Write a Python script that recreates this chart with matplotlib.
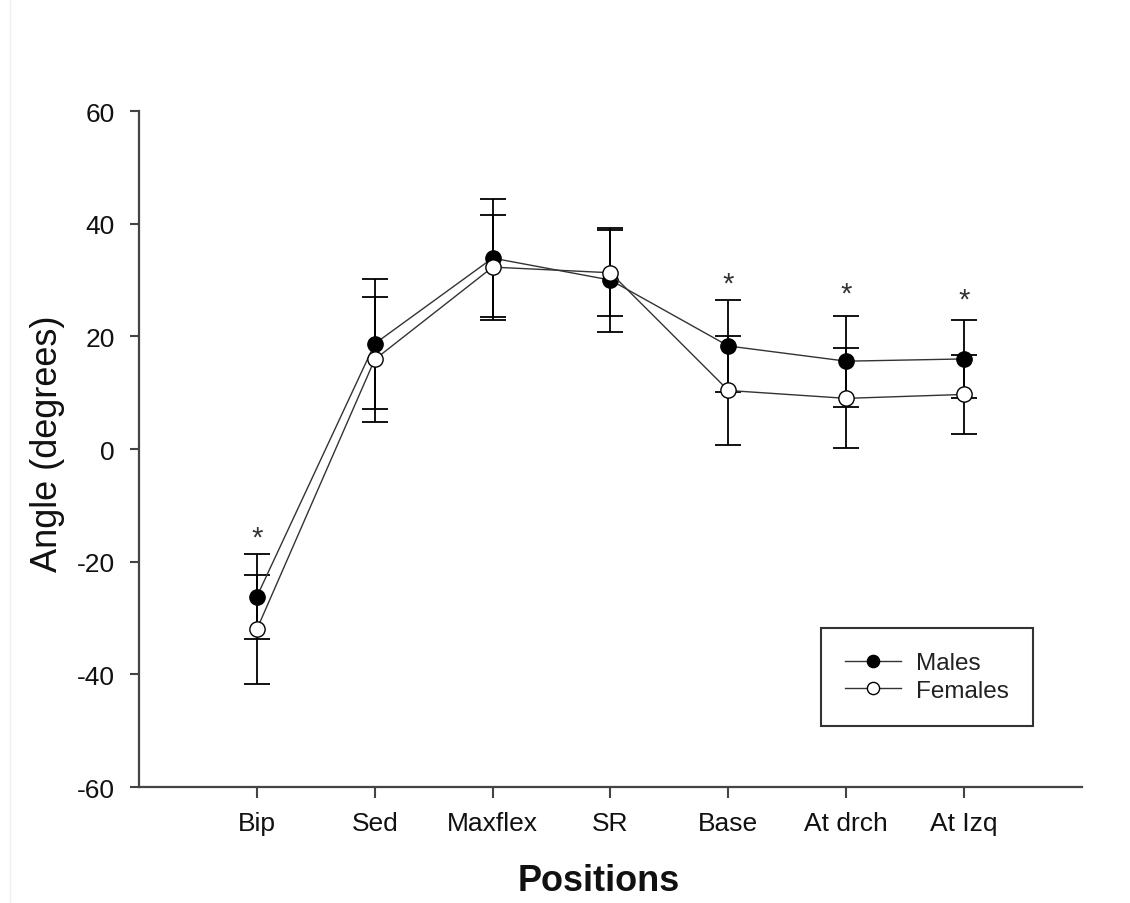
import numpy as np
import matplotlib.pyplot as plt
from matplotlib.lines import Line2D

plt.rcParams['font.family'] = ['Liberation Sans', 'DejaVu Sans']
plt.rcParams['axes.unicode_minus'] = False

positions = ['Bip', 'Sed', 'Maxflex', 'SR', 'Base', 'At drch', 'At Izq']
males = [-26.2, 18.7, 33.9, 30.0, 18.3, 15.6, 16.0]
males_sd = [7.6, 11.5, 10.5, 9.3, 8.2, 8.1, 6.9]
females = [-32.0, 15.9, 32.3, 31.3, 10.4, 9.0, 9.7]
females_sd = [9.7, 11.1, 9.3, 7.6, 9.6, 8.9, 7.0]
# significance marks
star_pos = ['Bip', 'Base', 'At drch', 'At Izq']
star_y = [-14.8, 30.4, 28.6, 27.5]

x = np.arange(1, len(positions) + 1)

fig = plt.figure(figsize=(11.3, 9.04), dpi=100)
ax = fig.add_axes([0.123, 0.1283, 0.8345, 0.7477])

line_col = '#333333'
ax.errorbar(x, males, yerr=males_sd, fmt='none', ecolor='black', elinewidth=1.3,
            capsize=9.5, capthick=1.3, zorder=2)
ax.errorbar(x, females, yerr=females_sd, fmt='none', ecolor='black', elinewidth=1.3,
            capsize=9.5, capthick=1.3, zorder=2)
ax.plot(x, males, color=line_col, lw=1.0, marker='o', ms=11, mfc='black',
        mec='black', mew=1.0, zorder=3, label='Males')
ax.plot(x, females, color=line_col, lw=1.0, marker='o', ms=11, mfc='white',
        mec='black', mew=1.0, zorder=4, label='Females')

for p, yv in zip(star_pos, star_y):
    ax.annotate('*', (positions.index(p) + 1, yv), xytext=(0, -4),
                textcoords='offset points', ha='center', va='center',
                fontsize=21, color='#333333')

ax.set_xlim(0, 8)
ax.set_ylim(-60, 60)
ax.set_xticks(x)
ax.set_xticklabels(positions)
ax.set_yticks(np.arange(-60, 61, 20))

for s in ['top', 'right']:
    ax.spines[s].set_visible(False)
for s in ['left', 'bottom']:
    ax.spines[s].set_color('#444444')
    ax.spines[s].set_linewidth(1.6)

ax.tick_params(axis='x', direction='out', length=8, width=1.5, color='#444444',
               labelsize=19, pad=9, labelcolor='#111111')
ax.tick_params(axis='y', direction='out', length=6.5, width=1.5, color='#444444',
               labelsize=19, pad=11, labelcolor='#111111')

ax.set_ylabel('Angle (degrees)', fontsize=26, va='center', color='#111111')
ax.yaxis.set_label_coords(-0.097, 0.51)
ax.set_xlabel('Positions', fontsize=26, fontweight='bold', va='center', color='#111111')
ax.xaxis.set_label_coords(0.488, -0.139)

leg = ax.legend(loc='upper left', bbox_to_anchor=(0.7263, 0.3042),
                bbox_transform=fig.transFigure, borderaxespad=0, fancybox=False,
                edgecolor='#333333', framealpha=1, fontsize=17.5, borderpad=1.0,
                handlelength=2.3, handletextpad=0.6, labelspacing=0.22,
                markerscale=0.8)
leg.get_frame().set_linewidth(1.5)
for t in leg.get_texts():
    t.set_color('#222222')

# faint border of the original screenshot
fig.add_artist(Line2D([0.009, 0.009], [0, 1], transform=fig.transFigure,
                      color='#eeeeee', lw=1))

fig.savefig('out.png', dpi=100)
